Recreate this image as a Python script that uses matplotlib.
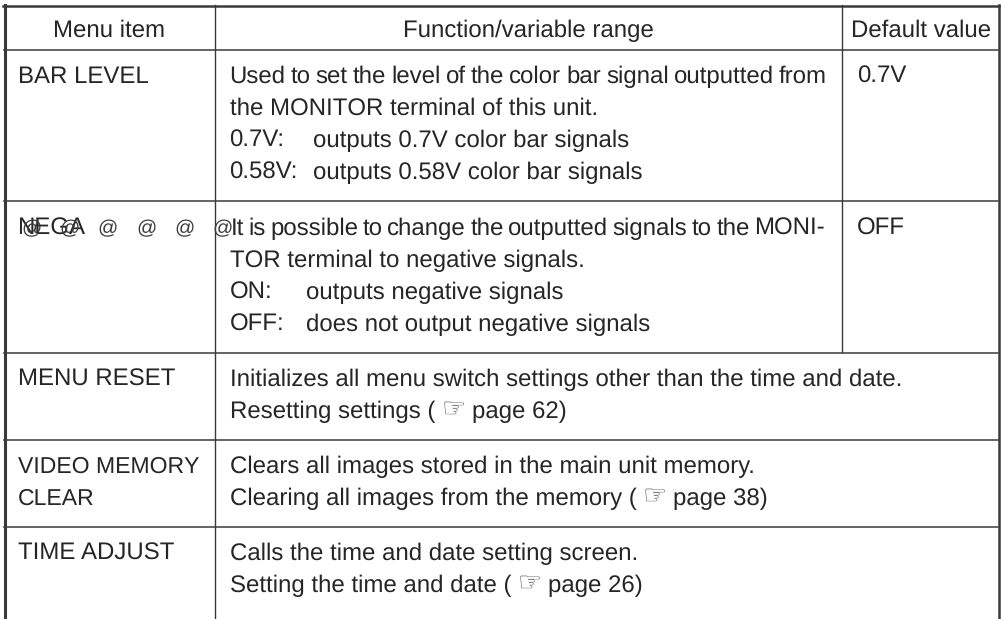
import matplotlib
matplotlib.use('Agg')
import matplotlib.pyplot as plt

# table contents
headers = ['Menu item', 'Function/variable range', 'Default value']
menu_items = ['BAR LEVEL', 'NEGA', 'MENU RESET', 'VIDEO MEMORY\nCLEAR', 'TIME ADJUST']
default_values = ['0.7V', 'OFF']
bar_level_lines = ['Used to set the level of the color bar signal outputted from',
                   'the MONITOR terminal of this unit.']
bar_level_opts = [('0.7V:', 'outputs 0.7V color bar signals'),
                  ('0.58V:', 'outputs 0.58V color bar signals')]
nega_lines = ['It is possible to change the outputted signals to the MONI-',
              'TOR terminal to negative signals.']
nega_opts = [('ON:', 'outputs negative signals'),
             ('OFF:', 'does not output negative signals')]
reset_lines = ['Initializes all menu switch settings other than the time and date.',
               ('Resetting settings ( ', 'page 62)')]
clear_lines = ['Clears all images stored in the main unit memory.',
               ('Clearing all images from the memory ( ', 'page 38)')]
time_lines = ['Calls the time and date setting screen.',
              ('Setting the time and date ( ', 'page 26)')]

FS = 17.05
LH = 32
INK = '#262626'
LINE = '#3a3a3a'

plt.rcParams['font.family'] = ['Liberation Sans', 'DejaVu Sans']
plt.rcParams['text.hinting'] = 'no_hinting'
plt.rcParams['text.hinting_factor'] = 1

fig = plt.figure(figsize=(10.01, 6.19), dpi=100)
ax = fig.add_axes([0, 0, 1, 1])
ax.set_xlim(0, 1001)
ax.set_ylim(619, 0)
ax.axis('off')
fig.canvas.draw()
rend = fig.canvas.get_renderer()


def put(x, y, s, **kw):
    kw.setdefault('fontsize', FS)
    kw.setdefault('color', INK)
    return ax.text(x, y, s, va='baseline', **kw)


def put_tight(x, x_end, y, s):
    # the original squeezes these long lines, so close up the word spaces
    words = [put(0, y, w) for w in s.split(' ')]
    widths = [w.get_window_extent(rend).width for w in words]
    gap = (x_end - x - sum(widths)) / (len(words) - 1)
    for w, wd in zip(words, widths):
        w.set_x(x)
        x += wd + gap


def put_ref(x, y, parts):
    # text, pointing hand, then the page number
    t = put(x, y, parts[0])
    x1 = t.get_window_extent(rend).x1
    hand = ax.text(x1, y - 1, '\u261e', fontsize=19.5, color='#555555', va='baseline',
                   family=['DejaVu Sans'])
    x2 = hand.get_window_extent(rend).x1 + 6
    put(x2, y, parts[1])


# grid lines
ax.plot([3, 999], [5.5, 5.5], color=LINE, lw=1.8)
ax.plot([4.5, 4.5], [5, 619], color=LINE, lw=2.2)
ax.plot([999, 999], [5, 619], color=LINE, lw=1.8)
for yy in [49.5, 201, 352.5, 439.5, 527]:
    ax.plot([4, 998], [yy, yy], color=LINE, lw=1.1)
ax.plot([215, 215], [5, 619], color=LINE, lw=1.0)
ax.plot([841.5, 841.5], [5, 352], color=LINE, lw=1.0)

# header row
put(109, 37, headers[0], ha='center')
put(528, 37, headers[1], ha='center')
put(921, 37, headers[2], ha='center')

# first column, VIDEO MEMORY is set narrower in the original
first_y = [83, 235, 386, 473, 560]
for item, yy in zip(menu_items, first_y):
    size = 16.55 if '\n' in item else FS
    for i, part in enumerate(item.split('\n')):
        put(17.5, yy + i * LH, part, fontsize=size)

# the stray @ marks over NEGA
for xx in [32, 70, 108, 147, 185, 223]:
    put(xx, 234, '@', fontsize=14.5, ha='center', color='#3c3c3c')

# second column
X2 = 229.5
put_tight(X2, 827, 83, bar_level_lines[0])
put(X2, 115, bar_level_lines[1])
for i, (a, b) in enumerate(bar_level_opts):
    put(X2, 147 + i * LH, a)
    put(313, 147 + i * LH, b)
put_tight(X2 + 1, 825, 235, nega_lines[0])
put(X2, 267, nega_lines[1])
for i, (a, b) in enumerate(nega_opts):
    put(X2, 299 + i * LH, a)
    put(306, 299 + i * LH, b)

for lines, yy in [(reset_lines, 386), (clear_lines, 473), (time_lines, 560)]:
    put(X2, yy, lines[0])
    put_ref(X2, yy + LH, lines[1])

# third column
put(857, 83, default_values[0])
put(857, 235, default_values[1])

fig.savefig('out.png', dpi=100)
